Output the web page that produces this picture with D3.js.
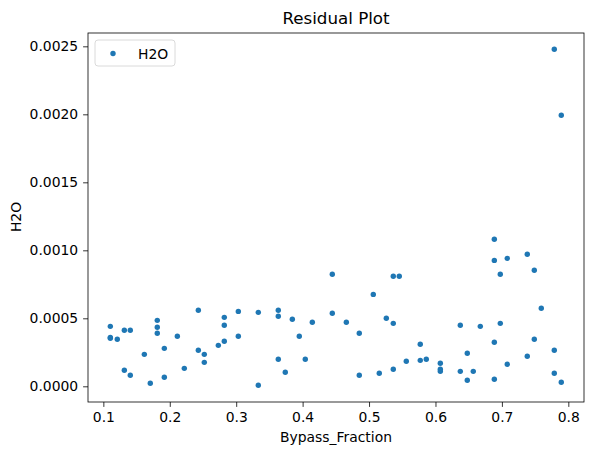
<!DOCTYPE html>
<html><head><meta charset="utf-8">
<script src="https://cdn.jsdelivr.net/npm/d3@7/dist/d3.min.js"></script>
<style>body{margin:0;background:#fff}svg{display:block}text{font-family:"DejaVu Sans",sans-serif;fill:#000}</style>
</head><body><svg id="c" width="593" height="455"></svg>
<script>
const bypassFraction = [0.1105,0.1105,0.1105,0.1210,0.1316,0.1406,0.1316,0.1406,0.1617,0.1707,
0.1812,0.1812,0.1812,0.1918,0.1918,0.2114,0.2219,0.2430,0.2430,0.2520,
0.2520,0.2731,0.2821,0.2821,0.2821,0.3032,0.3032,0.3333,0.3333,0.3634,
0.3634,0.3634,0.3739,0.3845,0.3950,0.4040,0.4146,0.4447,0.4447,0.4658,
0.4853,0.4853,0.5064,0.5154,0.5260,0.5365,0.5365,0.5365,0.5455,0.5561,
0.5771,0.5771,0.5862,0.6073,0.6073,0.6073,0.6374,0.6374,0.6479,0.6479,
0.6569,0.6675,0.6886,0.6886,0.6886,0.6886,0.6976,0.6976,0.7081,0.7081,
0.7382,0.7382,0.7488,0.7488,0.7593,0.7789,0.7789,0.7894,0.7789,0.7894];
const h2oResidual = [0.000441,0.000360,0.000353,0.000346,0.000412,0.000412,0.000118,0.0000809,0.000235,0.000022,
0.000485,0.000434,0.000390,0.000279,0.0000662,0.000368,0.000132,0.000559,0.000265,0.000235,
0.000176,0.000301,0.000507,0.000449,0.000331,0.000551,0.000368,0.000544,0.0000074,0.000559,
0.000515,0.000199,0.000103,0.000493,0.000368,0.000199,0.000471,0.000824,0.000537,0.000471,
0.000390,0.0000809,0.000676,0.0000956,0.000500,0.000809,0.000463,0.000125,0.000809,0.000184,
0.000309,0.000191,0.000199,0.000169,0.000125,0.000110,0.000449,0.000110,0.000243,0.0000441,
0.000110,0.000441,0.001081,0.000926,0.000324,0.0000515,0.000824,0.000463,0.000941,0.000162,
0.000971,0.000221,0.000853,0.000346,0.000574,0.000265,0.0000956,0.0000294,0.002478,0.001993];
const xTicks = [0.1,0.2,0.3,0.4,0.5,0.6,0.7,0.8];
const yTicks = [0,0.0005,0.0010,0.0015,0.0020,0.0025];
const seriesName = "H2O";

const L=88,R=584,T=33,B=402;
const svg=d3.select("#c");
const x=d3.scaleLinear().domain([0.0769,0.8236]).range([L,R]);
const y=d3.scaleLinear().domain([-0.0001154,0.002598]).range([B,T]);
const color="#1f77b4";

const pts=bypassFraction.map((v,i)=>({x:v,y:h2oResidual[i]}));
svg.append("g").selectAll("circle").data(pts).join("circle")
  .attr("cx",d=>x(d.x)).attr("cy",d=>y(d.y)).attr("r",2.7).attr("fill",color);

const xa=svg.append("g").attr("transform",`translate(0,${B})`)
  .call(d3.axisBottom(x).tickValues(xTicks).tickFormat(d3.format(".1f")).tickSize(4.9).tickPadding(4.9));
const ya=svg.append("g").attr("transform",`translate(${L},0)`)
  .call(d3.axisLeft(y).tickValues(yTicks).tickFormat(d3.format(".4f")).tickSize(4.9).tickPadding(4.9));
[xa,ya].forEach(a=>{a.select(".domain").remove();a.selectAll("line").attr("stroke","#000").attr("stroke-width",0.8);
  a.selectAll("text").attr("font-size","13.9px").attr("font-family","DejaVu Sans");});

svg.append("rect").attr("x",L).attr("y",T).attr("width",R-L).attr("height",B-T)
  .attr("fill","none").attr("stroke","#000").attr("stroke-width",0.8);

svg.append("text").attr("x",(L+R)/2).attr("y",24).attr("text-anchor","middle").attr("font-size","16.7px").text("Residual Plot");
svg.append("text").attr("x",(L+R)/2).attr("y",442).attr("text-anchor","middle").attr("font-size","13.9px").text("Bypass_Fraction");
svg.append("text").attr("transform","translate(21,217) rotate(-90)").attr("text-anchor","middle").attr("font-size","13.9px").text(seriesName);

const lg=svg.append("g");
lg.append("rect").attr("x",95).attr("y",40).attr("width",80).attr("height",26).attr("rx",3)
  .attr("fill","#fff").attr("fill-opacity",0.8).attr("stroke","#d0d0d0").attr("stroke-width",0.8);
lg.append("circle").attr("cx",113).attr("cy",53.5).attr("r",2.7).attr("fill",color);
lg.append("text").attr("x",138).attr("y",58.5).attr("font-size","13.9px").text(seriesName);
</script></body></html>
